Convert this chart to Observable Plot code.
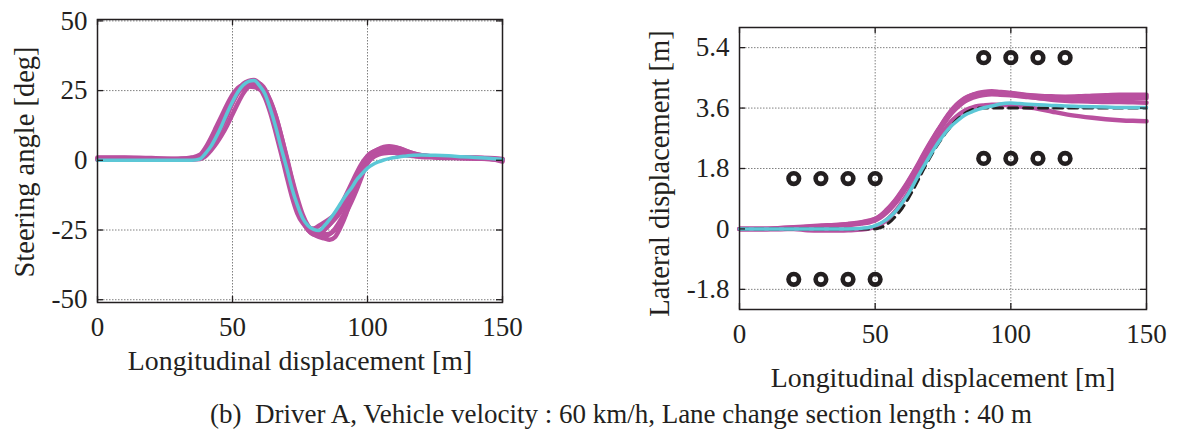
<!DOCTYPE html>
<html><head><meta charset="utf-8">
<script src="https://cdn.jsdelivr.net/npm/d3@7"></script>
<script src="https://cdn.jsdelivr.net/npm/@observablehq/plot@0.6"></script>
<style>
body{margin:0;background:#fff;width:1177px;height:432px;position:relative;overflow:hidden;font-family:"Liberation Serif","Times New Roman",serif;color:#231f20}
#p1{position:absolute;left:0;top:0}
#p2{position:absolute;left:630px;top:0}
#cap{position:absolute;top:401px;left:621px;transform:translateX(-50%);font-size:27px;line-height:1;white-space:pre;}
</style></head><body>
<div id="p1"></div><div id="p2"></div><div id="cap"></div>
<script>
// ---------- Panel 1: steering angle ----------
const steerX = [0,10,20,30,35,38,40,42,44,46,48,50,52,54,56,58,60,62,64,66,68,70,72,74,76,78,80,82,84,86,88,90,92,94,96,98,100,102,104,106,108,110,112,114,117,120,125,130,135,140,145,150];
const steerModel = [0,0,0,0,0,0.5,2.5,5,8.5,12.5, 17,21,24.5,27,28.3,28.6,26.8,23.9,18.5,12, 4.5,-2.5,-10,-16,-20.8,-23.5,-24.8,-25.2,-23.5,-21.2, -18.5,-15.5,-12.5,-10,-7,-4.8,-2.8,-1.5,-0.6,0.1, 0.6,1,1.3,1.5,1.8,1.9,1.8,1.6,1.3,1.0, 0.7,0.3];
const steerTrial1 = [0.5,0.5,0.3,0.5,0.8,1.5,3.5,6.5,10,14, 18,22,25.5,27,27.5,27.8,26.5,24,19.5,13, 6,-2,-10,-17,-22,-25,-26.5,-26.5,-25,-23, -20,-16.5,-12.5,-8.5,-4.5,-1,1.5,3,3.8,4, 3.5,2.8,2.2,1.8,1.5,1.2,1,0.8,0.8,0.8, 0.6,0.3];
const steerTrial2 = [0.8,0.8,0.5,0.5,0.5,1,2.5,5,8,12, 16,21,24.5,26,26.5,26.3,25.5,24,21,16, 9,1,-7,-14.5,-20.5,-24.5,-26.5,-27.5,-28,-28.5, -27.5,-24,-19.5,-13.5,-7.5,-2.5,1.5,3,3.8,4.3, 4.6,4.6,4.2,3.5,2.5,1.8,1.3,1,0.8,0.8, 0.6,0];
const steerTrial3 = [0.5,0.5,0.5,0.5,1,2,4.5,8,12,16, 20,23.5,26,27,27.3,27,25.8,22.5,17,10, 2.5,-5.5,-13,-19,-22.5,-24.3,-24.5,-23.5,-22.3,-21, -19.5,-17,-14,-10.5,-6.5,-2.5,0.8,2.5,3.2,3.3, 3.2,3,2.6,2.2,1.8,1.5,1.2,1,1,0.9, 0.8,0.5];
const steerTrial4 = [0.3,0.3,0.3,0.3,0.5,1,3,6,9.5,13.5, 17.5,21.5,25,27.5,28.5,28.8,27.5,25,20.5,14.5, 7,-1,-9,-16,-21.5,-25,-26.5,-27,-27.2,-26.5, -24.5,-21.5,-18,-14,-9.5,-5,-1,1.5,2.8,3.3, 3.5,3.4,3,2.5,2,1.6,1.2,1,0.8,0.6, 0.5,0.2];
const steerTrial5 = [1,1,0.8,0.5,0.5,1,2.5,5,8.5,12.5, 16.5,20.5,24,26.5,27.5,27.8,27,25,21.5,16, 9,1.5,-6.5,-13.5,-19.5,-23.5,-25.5,-26.3,-26.5,-26.3, -25,-22.5,-19,-15,-10.5,-5.5,-0.5,2.5,4,4.8, 5,4.8,4.3,3.5,2.5,1.8,1.3,1,0.9,0.9, 0.6,-0.5];
const steerTrial6 = [0.2,0.2,0.2,0.2,0.3,0.5,1.5,3.5,6,9, 12.5,16.5,20.5,24,26.5,27.8,27.5,25.5,21,15, 7.5,-0.5,-8.5,-15.5,-21,-24.5,-26,-25.5,-24.5,-23, -21,-18.5,-15.5,-12,-8,-4,-1,1,2,2.5, 2.7,2.7,2.5,2.2,1.9,1.6,1.3,1,0.8,0.7, 0.5,0.3];
const steerXTicks = [0,50,100,150];
const steerYTicks = [-50,-25,0,25,50];

// ---------- Panel 2: lateral displacement ----------
const latX = [0,10,15,20,25,30,35,40,45,48,50,52,54,56,58,60,62,64,66,68,70,72,74,76,78,80,82,84,86,88,90,93,96,100,105,110,115,120,125,130,135,140,145,150];
const latModel = [0,0,0,0,0,0,0,0,0.02,0.05, 0.1,0.17,0.27,0.4,0.57,0.78,1.02,1.3,1.6,1.88, 2.15,2.42,2.66,2.88,3.06,3.2,3.33,3.43,3.5,3.56, 3.61,3.66,3.72,3.75,3.72,3.7,3.68,3.66,3.65,3.64, 3.63,3.62,3.62,3.62];
const latTrial1 = [0,0,0.03,0.05,0.07,0.1,0.12,0.15,0.2,0.25, 0.3,0.4,0.55,0.72,0.92,1.15,1.4,1.67,1.95,2.25, 2.53,2.8,3.05,3.3,3.52,3.7,3.84,3.94,4.0,4.05, 4.08,4.1,4.08,4.05,4.0,3.97,3.95,3.94,3.95,3.97, 3.98,4.0,4.0,4.0];
const latTrial2 = [0,0,0,0.02,0.05,0.08,0.1,0.12,0.16,0.2, 0.25,0.34,0.47,0.63,0.82,1.05,1.3,1.57,1.85,2.15, 2.45,2.72,2.98,3.22,3.43,3.6,3.74,3.84,3.91,3.96, 3.99,4.01,4.0,3.98,3.94,3.9,3.88,3.87,3.86,3.86, 3.87,3.88,3.9,3.9];
const latTrial3 = [0,0,0,0.03,0.06,0.08,0.1,0.13,0.18,0.22, 0.28,0.37,0.5,0.66,0.86,1.08,1.33,1.6,1.88,2.18, 2.47,2.75,3.0,3.24,3.45,3.62,3.76,3.87,3.95,4.0, 4.04,4.06,4.04,4.0,3.95,3.9,3.85,3.82,3.8,3.79, 3.78,3.78,3.77,3.76];
const latTrial4 = [0,0,0,0,-0.04,-0.05,-0.05,-0.04,-0.02,0.02, 0.07,0.14,0.25,0.4,0.58,0.8,1.05,1.33,1.62,1.93, 2.23,2.52,2.78,3.0,3.2,3.35,3.47,3.56,3.62,3.66, 3.68,3.7,3.7,3.68,3.63,3.58,3.5,3.42,3.36,3.31, 3.27,3.24,3.22,3.21];
const latTrial5 = [0,0,0.02,0.04,0.06,0.08,0.1,0.14,0.19,0.24, 0.29,0.39,0.53,0.7,0.9,1.12,1.37,1.64,1.92,2.22, 2.5,2.78,3.04,3.28,3.5,3.68,3.82,3.92,3.99,4.03, 4.06,4.07,4.06,4.03,3.99,3.95,3.92,3.9,3.89,3.89, 3.9,3.92,3.94,3.95];
const refPathX = [0,50,52,54,56,58,60,62,64,66,68,70,72,74,76,78,80,82,84,86,88,90,150];
const refPathY = [0,0,0.04,0.12,0.25,0.42,0.62,0.88,1.17,1.48,1.8,2.1,2.38,2.63,2.86,3.06,3.24,3.38,3.49,3.56,3.6,3.6,3.6];
const coneLeftX = [20,30,40,50];
const coneLeftY = [1.5,-1.5];
const coneRightX = [90,100,110,120];
const coneRightY = [5.1,2.1];
const latXTicks = [0,50,100,150];
const latYTicks = [-1.8,0,1.8,3.6,5.4];

const xTitle = "Longitudinal displacement [m]";
const captionText = "(b)  Driver A, Vehicle velocity : 60 km/h, Lane change section length : 40 m";

// ---------- helpers ----------
const MAG = "#b9509f", CYAN = "#5cc7d6", INK = "#231f20";
const FONT = '"Liberation Serif","Times New Roman",serif';
const toRows = (xs, ys, id) => xs.map((x, i) => ({x, y: ys[i], id}));

function panel({width, height, ml, mr, mt, mb, xDomain, yDomain, xTicks, yTicks, ylabel, ylabelDx, ylabelDy, xlabelDy, marks}) {
  const iw = width - ml - mr, ih = height - mt - mb;
  return Plot.plot({
    width, height, marginLeft: ml, marginRight: mr, marginTop: mt, marginBottom: mb,
    style: {fontFamily: FONT, fontSize: "27px", color: INK, background: "transparent", overflow: "visible"},
    x: {domain: xDomain},
    y: {domain: yDomain},
    marks: [
      Plot.gridX(xTicks, {stroke: "#808080", strokeOpacity: 1, strokeWidth: 1, strokeDasharray: "1.5,1.5"}),
      Plot.gridY(yTicks, {stroke: "#808080", strokeOpacity: 1, strokeWidth: 1, strokeDasharray: "1.5,1.5"}),
      ...marks,
      Plot.ruleX(xTicks, {stroke: INK, strokeWidth: 1.3, insetTop: ih - 6}),
      Plot.ruleX(xTicks, {stroke: INK, strokeWidth: 1.3, insetBottom: ih - 6}),
      Plot.ruleY(yTicks, {stroke: INK, strokeWidth: 1.3, insetRight: iw - 6}),
      Plot.ruleY(yTicks, {stroke: INK, strokeWidth: 1.3, insetLeft: iw - 6}),
      Plot.frame({stroke: INK, strokeWidth: 1.5}),
      Plot.axisX(xTicks, {tickSize: 0, tickPadding: 14, fill: INK, label: null}),
      Plot.axisY(yTicks, {tickSize: 0, tickPadding: 10, fill: INK, tickFormat: d => String(d), label: null}),
      Plot.text([xTitle], {text: d => d, frameAnchor: "bottom", dy: xlabelDy, fontSize: 27.8, fill: INK, textAnchor: "middle", lineAnchor: "middle"}),
      Plot.text([ylabel], {text: d => d, frameAnchor: "left", dx: ylabelDx, dy: ylabelDy, rotate: -90, fontSize: 28.5, fill: INK, textAnchor: "middle", lineAnchor: "middle"})
    ]
  });
}

// ---------- panel 1 ----------
const steerTrials = [steerTrial1, steerTrial2, steerTrial3, steerTrial4, steerTrial5, steerTrial6];
const steerRows = steerTrials.flatMap((ys, k) => toRows(steerX, ys, "t" + k));
const steerModelRows = toRows(steerX, steerModel, "model");

document.getElementById("p1").appendChild(panel({
  width: 530, height: 395, ml: 97, mr: 28, mt: 19, mb: 93,
  xDomain: [0, 150], yDomain: [-51, 50.5],
  xTicks: steerXTicks, yTicks: steerYTicks,
  ylabel: "Steering angle [deg]", ylabelDx: -73, ylabelDy: 1, xlabelDy: 59,
  marks: [
    Plot.line(steerRows, {x: "x", y: "y", z: "id", stroke: MAG, strokeWidth: 4.5, curve: "monotone-x"}),
    Plot.line(steerModelRows, {x: "x", y: "y", stroke: CYAN, strokeWidth: 3.5, curve: "monotone-x"})
  ]
}));

// ---------- panel 2 ----------
const latTrials = [latTrial1, latTrial2, latTrial3, latTrial4, latTrial5];
const latRows = latTrials.flatMap((ys, k) => toRows(latX, ys, "t" + k));
const latModelRows = toRows(latX, latModel, "model");
const refRows = toRows(refPathX, refPathY, "ref");
const cones = [
  ...coneLeftY.flatMap(y => coneLeftX.map(x => ({x, y}))),
  ...coneRightY.flatMap(y => coneRightX.map(x => ({x, y})))
];

document.getElementById("p2").appendChild(panel({
  width: 547, height: 395, ml: 109, mr: 31, mt: 27, mb: 86,
  xDomain: [0, 150], yDomain: [-2.4, 6],
  xTicks: latXTicks, yTicks: latYTicks,
  ylabel: "Lateral displacement [m]", ylabelDx: -80, ylabelDy: 5, xlabelDy: 68.5,
  marks: [
    Plot.line(latRows, {x: "x", y: "y", z: "id", stroke: MAG, strokeWidth: 4.5, curve: "monotone-x"}),
    Plot.line(refRows, {x: "x", y: "y", stroke: INK, strokeWidth: 3, strokeDasharray: "9,6", curve: "monotone-x"}),
    Plot.line(latModelRows, {x: "x", y: "y", stroke: CYAN, strokeWidth: 3.5, curve: "monotone-x"}),
    Plot.dot(cones, {x: "x", y: "y", r: 5.3, stroke: INK, strokeWidth: 4.6, fill: "none"})
  ]
}));

document.getElementById("cap").textContent = captionText;
</script>
</body></html>
